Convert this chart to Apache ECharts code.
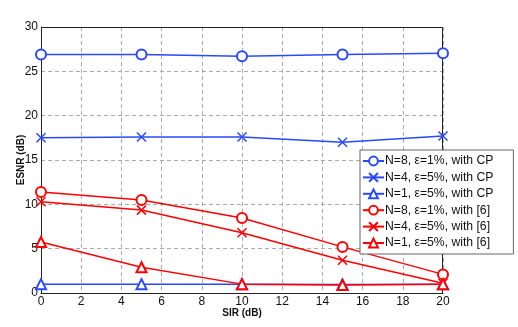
<!DOCTYPE html>
<html>
<head>
<meta charset="utf-8">
<script src="https://cdn.jsdelivr.net/npm/echarts@6/dist/echarts.min.js"></script>
<style>
  html, body { margin: 0; padding: 0; background: #fff; }
  #chart { width: 518px; height: 327px; }
</style>
</head>
<body>
<div id="chart"></div>
<script>
// SIR values (dB)
const sir = [0, 5, 10, 15, 20];

// ESNR (dB) per curve
const n8CP = [26.9, 26.9, 26.7, 26.9, 27.05];
const n4CP = [17.5, 17.6, 17.6, 17.0, 17.7];
const n1CP = [1.0, 1.0, 1.0, 0.95, 1.0];
const n8Ref = [11.4, 10.5, 8.45, 5.2, 2.1];
const n4Ref = [10.3, 9.35, 6.8, 3.7, 1.1];
const n1Ref = [5.75, 2.9, 1.0, 0.9, 1.0];

const names = [
  'N=8, ε=1%, with CP',
  'N=4, ε=5%, with CP',
  'N=1, ε=5%, with CP',
  'N=8, ε=1%, with [6]',
  'N=4, ε=5%, with [6]',
  'N=1, ε=5%, with [6]'
];

const BLUE = '#2a48ff';
const RED = '#ff0000';
const CROSS = 'path://M0,0L10,10M10,0L0,10';

function mk(name, data, color, symbol) {
  const isCross = symbol === CROSS;
  return {
    name: name,
    type: 'line',
    data: sir.map((x, i) => [x, data[i]]),
    symbol: symbol,
    symbolSize: isCross ? 9 : 10,
    showAllSymbol: true,
    lineStyle: { color: color, width: 1.5 },
    itemStyle: isCross
      ? { color: 'rgba(0,0,0,0)', borderColor: color, borderWidth: 1.5 }
      : { color: color, borderColor: color, borderWidth: 1.5 },
    color: color,
    emphasis: { disabled: true },
    animation: false
  };
}

const chart = echarts.init(document.getElementById('chart'));
chart.setOption({
  animation: false,
  grid: { left: 41, right: 75, top: 27, bottom: 34, show: false },
  legend: {
    orient: 'vertical',
    left: 360,
    top: 150,
    width: 154,
    padding: [5, 20, 5, 2],
    itemGap: 4.4,
    itemWidth: 21,
    itemHeight: 11,
    backgroundColor: '#fff',
    borderColor: '#666',
    borderWidth: 1,
    borderRadius: 0,
    textStyle: { fontFamily: 'Liberation Sans', fontSize: 12.2, color: '#111', padding: [0, 0, 0, -4] },
    data: names
  },
  xAxis: {
    type: 'value',
    min: 0, max: 20, interval: 2,
    name: 'SIR (dB)',
    nameLocation: 'middle',
    nameMoveOverlap: false,
    nameGap: 15,
    nameTextStyle: { fontFamily: 'Liberation Sans', fontSize: 10, fontWeight: 'bold', color: '#111' },
    axisLine: { show: true, onZero: false, lineStyle: { color: '#222', width: 1 } },
    axisTick: { show: false },
    axisLabel: { fontFamily: 'Liberation Sans', fontSize: 12, color: '#111', margin: 3 },
    splitLine: { show: true, lineStyle: { color: '#aaa', type: [4, 3], width: 1 } }
  },
  yAxis: {
    type: 'value',
    min: 0, max: 30, interval: 5,
    name: 'ESNR (dB)',
    nameLocation: 'middle',
    nameMoveOverlap: false,
    nameGap: 15,
    nameTextStyle: { fontFamily: 'Liberation Sans', fontSize: 10, fontWeight: 'bold', color: '#111' },
    axisLine: { show: true, onZero: false, lineStyle: { color: '#222', width: 1 } },
    axisTick: { show: false },
    axisLabel: { fontFamily: 'Liberation Sans', fontSize: 12, color: '#111', margin: 3 },
    splitLine: { show: true, lineStyle: { color: '#aaa', type: [4, 3], width: 1 } }
  },
  graphic: [],
  series: [
    mk(names[0], n8CP, BLUE, 'emptyCircle'),
    mk(names[1], n4CP, BLUE, CROSS),
    mk(names[2], n1CP, BLUE, 'emptyTriangle'),
    mk(names[3], n8Ref, RED, 'emptyCircle'),
    mk(names[4], n4Ref, RED, CROSS),
    mk(names[5], n1Ref, RED, 'emptyTriangle')
  ]
});

// top/right box border like the original frame
const r = chart.getModel().getComponent('grid').coordinateSystem.getRect();
chart.setOption({
  graphic: [{
    type: 'polyline',
    shape: { points: [[r.x, r.y + 0.5], [r.x + r.width - 0.5, r.y + 0.5], [r.x + r.width - 0.5, r.y + r.height]] },
    style: { stroke: '#222', lineWidth: 1, fill: null },
    z: 1, silent: true
  }]
});
</script>
</body>
</html>
